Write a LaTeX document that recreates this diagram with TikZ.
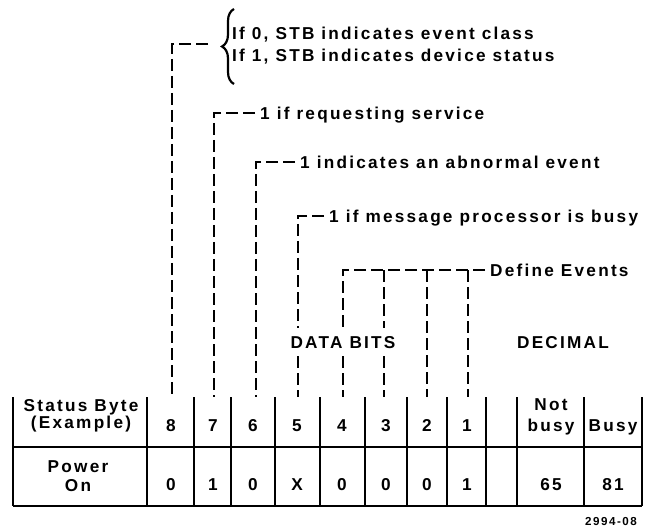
\documentclass[tikz,border=0pt]{standalone}
\usepackage{fontspec}
\setmainfont{Liberation Sans}[BoldFont={Liberation Sans Bold}, LetterSpace=13]
\usetikzlibrary{decorations.pathreplacing}
\newcommand{\labfont}{\fontsize{17.2}{22}\selectfont\bfseries}
\begin{document}
\begin{tikzpicture}[x=1pt,y=-1pt,
  lab/.style={font=\labfont, inner xsep=5pt, inner ysep=0pt, anchor=west, text height=12.3pt, text depth=0pt},
  dsh/.style={line width=2.3pt, dash pattern=on 12pt off 5pt},
  gridline/.style={line width=1.3pt},
  heavy/.style={line width=2pt},
  cell/.style={inner sep=0pt, anchor=base, align=center},
]
\useasboundingbox (0,0) rectangle (650,529);

% table grid
\foreach \x in {13,147,194,231,275,320,365,407,447,486,517,584,642}
  \draw[gridline] (\x,397) -- (\x,506);
\draw[heavy] (13,447) -- (642,447);
\draw[heavy] (13,506) -- (642,506);

% header row
\node[cell, font={\fontsize{17.2}{16.5}\selectfont\bfseries}] (hsb) at (81,428) {Status Byte\\(Example)};
\node[cell, font=\labfont] (h8) at (171,431) {8};
\node[cell, font=\labfont] (h7) at (213,431) {7};
\node[cell, font=\labfont] (h6) at (253,431) {6};
\node[cell, font=\labfont] (h5) at (297,431) {5};
\node[cell, font=\labfont] (h4) at (342,431) {4};
\node[cell, font=\labfont] (h3) at (386,431) {3};
\node[cell, font=\labfont] (h2) at (427,431) {2};
\node[cell, font=\labfont] (h1) at (467,431) {1};
\node[cell, font={\fontsize{17.2}{21.7}\selectfont\bfseries}] (hnb) at (551,431.7) {Not\\busy};
\node[cell, font=\labfont] (hb) at (613,431.7) {Busy};

% value row
\node[cell, font={\fontsize{17.2}{19}\selectfont\bfseries}] (vpo) at (78,491) {Power\\On};
\node[cell, font=\labfont] (v8) at (171,490) {0};
\node[cell, font=\labfont] (v7) at (213,490) {1};
\node[cell, font=\labfont] (v6) at (253,490) {0};
\node[cell, font=\labfont] (v5) at (297,490) {X};
\node[cell, font=\labfont] (v4) at (342,490) {0};
\node[cell, font=\labfont] (v3) at (386,490) {0};
\node[cell, font=\labfont] (v2) at (427,490) {0};
\node[cell, font=\labfont] (v1) at (467,490) {1};
\node[cell, font=\labfont] (vnb) at (551,490) {65};
\node[cell, font=\labfont] (vb) at (613,490) {81};

\node[inner sep=0pt, anchor=base east, font={\fontsize{11.6}{13}\selectfont\bfseries}] (fig) at (637,525) {2994-08};

% connector feet on the table top
\coordinate (t8) at (172,397);
\coordinate (t7) at (214,397);
\coordinate (t6) at (256,397);
\coordinate (t5) at (298,397);
\coordinate (t4) at (343,397);
\coordinate (t3) at (384,397);
\coordinate (t2) at (427,397);
\coordinate (t1) at (468,397);

% labels
\node[inner sep=0pt, anchor=west, align=left, font=\labfont] (l8) at (232,45.5)
  {If 0, STB indicates event class\\If 1, STB indicates device status};
\draw[line width=2.2pt, decorate, decoration={brace, amplitude=12pt}] (234,84) -- (234,9);
\coordinate (e8) at (208,44);
\node[lab] (l7) at (255,113) {1 if requesting service};
\node[lab] (l6) at (295,162) {1 indicates an abnormal event};
\node[lab] (l5) at (324,216) {1 if message processor is busy};
\node[lab] (de) at (485,270) {Define Events};
\node[lab, anchor=center, inner xsep=2pt, inner ysep=8pt] (db) at (343,342) {DATA BITS};
\node[lab, anchor=center] (dec) at (563,342) {DECIMAL};

% connectors (drawn from the label end so that a full dash meets the text)
\draw[dsh] (e8) -| (t8);
\draw[dsh] (l7.west) -| (t7);
\draw[dsh] (l6.west) -| (t6);
\draw[dsh] (l5.west) -| (t5 |- db.north);
\draw[dsh] (t5 |- db.south) -- (t5);
\draw[dsh] (de.west) -| (t4 |- db.north);
\draw[dsh] (t4 |- db.south) -- (t4);
\draw[dsh] (t3 |- de.west) -- (t3 |- db.north);
\draw[dsh] (t3 |- db.south) -- (t3);
\draw[dsh] (t2 |- de.west) -- (t2);
\draw[dsh] (t1 |- de.west) -- (t1);
\end{tikzpicture}
\end{document}
